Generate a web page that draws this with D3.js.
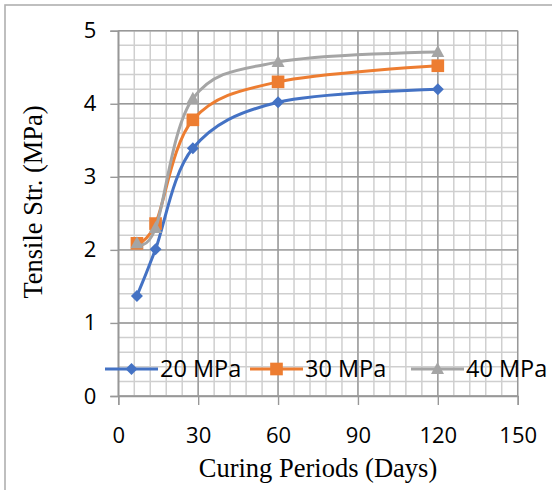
<!DOCTYPE html>
<html><head><meta charset="utf-8">
<script src="https://cdn.jsdelivr.net/npm/d3@7"></script>
<style>html,body{margin:0;padding:0;background:#fff}svg{display:block}</style>
</head><body>
<svg id="c" width="552" height="490"></svg>
<script>
const days = [7, 14, 28, 60, 120];
const seriesNames = ["20 MPa", "30 MPa", "40 MPa"];
const s20 = [1.37, 2.01, 3.39, 4.02, 4.20];
const s30 = [2.09, 2.36, 3.78, 4.30, 4.52];
const s40 = [2.09, 2.30, 4.07, 4.57, 4.71];
const xTicks = [0, 30, 60, 90, 120, 150];
const yTicks = [0, 1, 2, 3, 4, 5];
const colors = ["#4472C4", "#ED7D31", "#A5A5A5"];

const svg = d3.select("#c");
svg.append("rect").attr("x", 5).attr("y", 5).attr("width", 600).attr("height", 600)
  .attr("fill", "none").attr("stroke", "#b0b0b0").attr("stroke-width", 1.6);

const x = d3.scaleLinear().domain([0, 150]).range([118.3, 517.7]);
const y = d3.scaleLinear().domain([0, 5]).range([396, 30.7]);

const g = svg.append("g");
const minorX = d3.range(0, 151, 6);
const minorY = d3.range(0, 5.01, 0.2);
g.selectAll(".mx").data(minorX).join("line")
  .attr("x1", d => x(d)).attr("x2", d => x(d)).attr("y1", y(0)).attr("y2", y(5))
  .attr("stroke", "#cfcfcf").attr("stroke-width", 1.5);
g.selectAll(".my").data(minorY).join("line")
  .attr("y1", d => y(d)).attr("y2", d => y(d)).attr("x1", x(0)).attr("x2", x(150))
  .attr("stroke", "#cfcfcf").attr("stroke-width", 1.5);
g.selectAll(".Mx").data(xTicks).join("line")
  .attr("x1", d => x(d)).attr("x2", d => x(d)).attr("y1", y(0)).attr("y2", y(5))
  .attr("stroke", "#989898").attr("stroke-width", 1.4);
g.selectAll(".My").data(yTicks).join("line")
  .attr("y1", d => y(d)).attr("y2", d => y(d)).attr("x1", x(0)).attr("x2", x(150))
  .attr("stroke", "#989898").attr("stroke-width", 1.4);

const yAxis = d3.axisLeft(y).tickValues(yTicks).tickSize(8).tickPadding(14).tickFormat(d3.format("d"));
const xAxis = d3.axisBottom(x).tickValues(xTicks).tickSize(9).tickPadding(22).tickFormat(d3.format("d"));
const ya = svg.append("g").attr("transform", `translate(${x(0)},0)`).call(yAxis);
const xa = svg.append("g").attr("transform", `translate(0,${y(0)})`).call(xAxis);
[ya, xa].forEach(a => {
  a.select(".domain").attr("stroke", "#989898").attr("stroke-width", 1.4);
  a.selectAll(".tick line").attr("stroke", "#989898").attr("stroke-width", 1.4);
  a.selectAll("text").attr("font-family", "'Open Sans', sans-serif").attr("font-size", 22).attr("fill", "#000");
});

// marker shapes (Excel-like)
function marker(sel, i) {
  if (i === 0) sel.append("path").attr("d", d3.symbol().type(d3.symbolSquare).size(72)).attr("transform", "rotate(45)");
  else if (i === 1) sel.append("path").attr("d", d3.symbol().type(d3.symbolSquare).size(160));
  else sel.append("path").attr("d", "M0,-7L6.5,5L-6.5,5Z");
  sel.selectAll("path").attr("fill", colors[i]);
}

const all = [s20, s30, s40];
const line = d3.line().x(d => x(d[0])).y(d => y(d[1])).curve(d3.curveCatmullRom.alpha(0));
all.forEach((s, i) => {
  const pts = days.map((d, j) => [d, s[j]]);
  svg.append("path").attr("d", line(pts)).attr("fill", "none")
    .attr("stroke", colors[i]).attr("stroke-width", 3);
  svg.selectAll(".m" + i).data(pts).join("g")
    .attr("transform", d => `translate(${x(d[0])},${y(d[1])})`)
    .each(function () { marker(d3.select(this), i); });
});

// legend
const legX = [105, 250, 411];
const legY = 369;
seriesNames.forEach((n, i) => {
  const lg = svg.append("g").attr("transform", `translate(${legX[i]},${legY})`);
  lg.append("line").attr("x1", 0).attr("x2", 53).attr("y1", 0).attr("y2", 0)
    .attr("stroke", colors[i]).attr("stroke-width", 3);
  marker(lg.append("g").attr("transform", "translate(26.5,0)"), i);
  lg.append("text").attr("x", 55).attr("y", 0).attr("dy", "0.35em")
    .attr("font-family", "'Open Sans', sans-serif").attr("font-size", 23.5).attr("fill", "#000").text(n);
});

svg.append("text").attr("x", 318).attr("y", 477).attr("text-anchor", "middle")
  .attr("font-family", "'Liberation Serif', serif").attr("font-size", 26.5).attr("fill", "#000")
  .text("Curing Periods (Days)");
svg.append("text").attr("transform", "translate(42,202) rotate(-90)").attr("text-anchor", "middle")
  .attr("font-family", "'Liberation Serif', serif").attr("font-size", 26.5).attr("fill", "#000")
  .text("Tensile Str. (MPa)");
</script>
</body></html>
